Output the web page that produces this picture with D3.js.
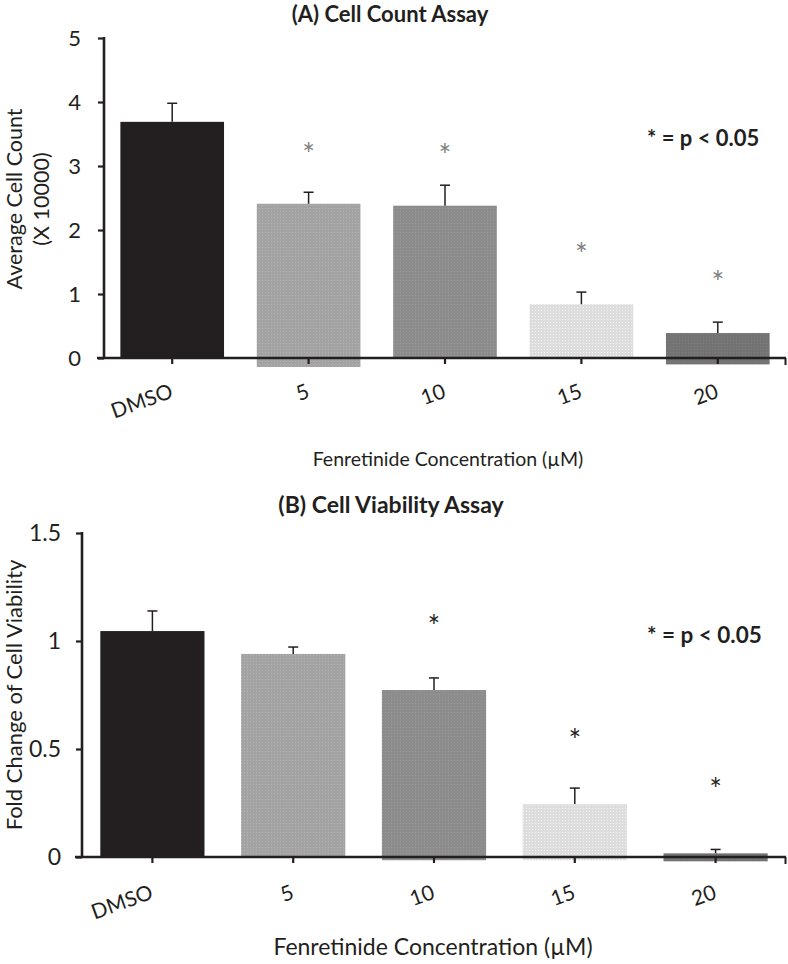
<!DOCTYPE html>
<html>
<head>
<meta charset="utf-8">
<script src="https://cdn.jsdelivr.net/npm/d3@7"></script>
<style>
  html, body { margin: 0; padding: 0; background: #fff; }
  svg { display: block; font-family: Lato, "Open Sans", sans-serif; }
</style>
</head>
<body>
<svg id="chart" width="788" height="964"></svg>
<script>
// ---------- data ----------
const categories = ["DMSO", "5", "10", "15", "20"];

// (A) Cell count assay (x 10000)
const countMeans  = [3.69, 2.41, 2.38, 0.84, 0.39];
const countErrors = [0.29, 0.18, 0.32, 0.19, 0.17];
const countStars  = [null, 3.28, 3.27, 1.72, 1.28];   // value where '*' is drawn
const countFloor  = [0, -0.14, 0, 0, -0.1];            // bar bottom as printed
const countTicks  = [0, 1, 2, 3, 4, 5];

// (B) Cell viability assay (fold change)
const viabMeans  = [1.046, 0.94, 0.773, 0.245, 0.017];
const viabErrors = [0.093, 0.032, 0.056, 0.074, 0.018];
const viabStars  = [null, null, 1.097, 0.569, 0.343];
const viabFloor  = [0, 0, -0.015, -0.015, -0.02];
const viabTicks  = [0, 0.5, 1, 1.5];

const barColors = ["#231f20", "#a3a3a3", "#8c8c8c", "#dddddd", "#737373"];
const ink = "#231f20";

const svg = d3.select("#chart");
const defs = svg.append("defs");
barColors.forEach((c, i) => {
  const p = defs.append("pattern").attr("id", "tex" + i)
    .attr("width", 3).attr("height", 3).attr("patternUnits", "userSpaceOnUse");
  p.append("rect").attr("width", 3).attr("height", 3).attr("fill", c);
  if (i > 0) {
    p.append("rect").attr("x", 1).attr("y", 1).attr("width", 1).attr("height", 1)
      .attr("fill", d3.color(c).brighter(0.25));
  }
});

function panel(o) {
  const g = svg.append("g");
  const x = d3.scaleBand().domain(categories).range([o.x0, o.x1])
    .paddingInner(o.pad).paddingOuter(o.pad / 2);
  const y = d3.scaleLinear().domain([0, o.ymax]).range([o.yb, o.yt]);

  // bars
  g.selectAll(".bar").data(categories).enter().append("rect")
    .attr("x", d => x(d))
    .attr("width", x.bandwidth())
    .attr("y", (d, i) => y(o.means[i]))
    .attr("height", (d, i) => y(o.floor[i]) - y(o.means[i]))
    .attr("fill", (d, i) => "url(#tex" + i + ")");

  // error bars (upper only)
  const cx = d => x(d) + x.bandwidth() / 2;
  g.selectAll(".err").data(categories).enter().append("line")
    .attr("x1", cx).attr("x2", cx)
    .attr("y1", (d, i) => y(o.means[i]))
    .attr("y2", (d, i) => y(o.means[i] + o.errs[i]))
    .attr("stroke", ink).attr("stroke-width", 1.5);
  g.selectAll(".cap").data(categories).enter().append("line")
    .attr("x1", d => cx(d) - 5).attr("x2", d => cx(d) + 5)
    .attr("y1", (d, i) => y(o.means[i] + o.errs[i]))
    .attr("y2", (d, i) => y(o.means[i] + o.errs[i]))
    .attr("stroke", ink).attr("stroke-width", 1.5);

  // stars
  g.selectAll(".star").data(categories.filter((d, i) => o.stars[i] != null)).enter()
    .append("text")
    .attr("x", cx)
    .attr("y", d => y(o.stars[categories.indexOf(d)]))
    .attr("dy", "0.56em")
    .attr("text-anchor", "middle")
    .attr("font-size", o.starSize)
    .attr("fill", o.starColor)
    .text("*");

  // y axis
  const ya = g.append("g").attr("transform", `translate(${o.x0},0)`)
    .call(d3.axisLeft(y).tickValues(o.ticks).tickSize(6).tickPadding(o.tickPad)
      .tickFormat(d3.format("~g")));
  ya.select(".domain").remove();
  ya.append("line").attr("x1", 0).attr("x2", 0).attr("y1", o.yt - 1).attr("y2", o.yb)
    .attr("stroke", ink).attr("stroke-width", 2.6);
  ya.selectAll(".tick line").attr("stroke", ink).attr("stroke-width", 2.2);
  ya.selectAll(".tick text").attr("fill", ink).attr("font-size", o.tickSize)
    .attr("font-family", "Lato");

  // x axis
  const xa = g.append("g").attr("transform", `translate(0,${o.yb})`)
    .call(d3.axisBottom(x).tickSize(6).tickFormat(""));
  xa.select(".domain").remove();
  xa.append("line").attr("x1", o.x0 - 7).attr("x2", o.x1).attr("y1", 0).attr("y2", 0)
    .attr("stroke", ink).attr("stroke-width", 2.6);
  xa.append("line").attr("x1", o.x1 - 0.5).attr("x2", o.x1 - 0.5).attr("y1", 0).attr("y2", 7)
    .attr("stroke", ink).attr("stroke-width", 2);
  xa.selectAll(".tick line").attr("stroke", ink).attr("stroke-width", 2.2);

  g.selectAll(".xl").data(categories).enter().append("text")
    .attr("transform", d => `translate(${cx(d) + 2},${o.yb + o.xlabOff}) rotate(-20)`)
    .attr("text-anchor", "end")
    .attr("font-size", o.xTickSize)
    .attr("fill", ink)
    .text(d => d);

  // titles
  g.append("text").attr("x", o.titleX).attr("y", o.titleY)
    .attr("text-anchor", "middle").attr("font-weight", "bold")
    .attr("font-size", o.titleSize).attr("fill", ink).text(o.title);

  g.append("text").attr("x", o.legX).attr("y", o.legY)
    .attr("font-weight", "bold").attr("font-size", o.legSize).attr("fill", ink)
    .text("* = p < 0.05");

  g.append("text").attr("x", o.xtX).attr("y", o.xtY)
    .attr("text-anchor", "middle").attr("font-size", o.xtSize).attr("fill", ink)
    .text("Fenretinide Concentration (µM)");

  const yt = g.append("text")
    .attr("transform", `translate(0,${o.ytY}) rotate(-90)`)
    .attr("text-anchor", "middle").attr("font-size", o.ytSize).attr("fill", ink);
  o.ytLines.forEach((t, i) => {
    yt.append("tspan").attr("x", 0).attr("y", o.ytX[i]).text(t);
  });
}

panel({
  x0: 104, x1: 786, yt: 38, yb: 358, ymax: 5, pad: 0.24,
  means: countMeans, errs: countErrors, stars: countStars, floor: countFloor,
  ticks: countTicks, starSize: 30, starColor: "#808080",
  tickSize: 22, xTickSize: 21, tickPad: 17, xlabOff: 39,
  title: "(A) Cell Count Assay", titleX: 390, titleY: 22, titleSize: 22,
  legX: 647, legY: 146, legSize: 22,
  xtX: 448, xtY: 466, xtSize: 19.5,
  ytLines: ["Average Cell Count", "(X 10000)"], ytX: [21.5, 49], ytY: 199, ytSize: 21.5
});

panel({
  x0: 82, x1: 786, yt: 533, yb: 857, ymax: 1.5, pad: 0.26,
  means: viabMeans, errs: viabErrors, stars: viabStars, floor: viabFloor,
  ticks: viabTicks, starSize: 30, starColor: ink,
  tickSize: 23, xTickSize: 21, tickPad: 15, xlabOff: 41,
  title: "(B) Cell Viability Assay", titleX: 391, titleY: 513, titleSize: 23,
  legX: 647, legY: 643, legSize: 22.5,
  xtX: 433, xtY: 955, xtSize: 23,
  ytLines: ["Fold Change of Cell Viability"], ytX: [22], ytY: 695, ytSize: 22
});
</script>
</body>
</html>
